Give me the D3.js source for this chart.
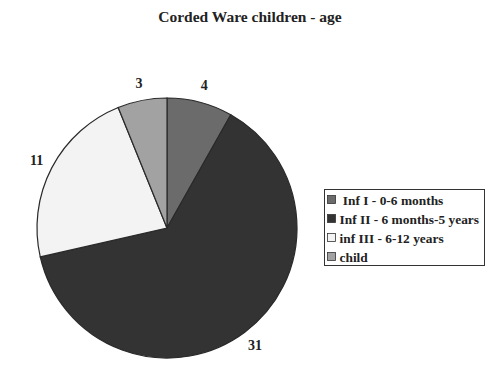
<!DOCTYPE html>
<html><head><meta charset="utf-8">
<script src="https://cdn.jsdelivr.net/npm/d3@7/dist/d3.min.js"></script>
<style>body{margin:0;background:#fff;}svg{display:block;}</style>
</head><body>
<svg id="c" width="500" height="367"></svg>
<script>
const categories = ["Inf I - 0-6 months", "Inf II - 6 months-5 years", "inf III - 6-12 years", "child"];
const legendLabels = ["\u00a0Inf I - 0-6 months", "Inf II - 6 months-5 years", "inf III - 6-12 years", "child"];
const values = [4, 31, 11, 3];
const colors = ["#6b6b6b", "#333333", "#f3f3f3", "#a2a2a2"];
const title = "Corded Ware children - age";

const svg = d3.select("#c");
const font = "'Liberation Serif','Times New Roman',serif";
const cx = 167, cy = 228, r = 130;

svg.append("text").attr("x", 250).attr("y", 22).attr("text-anchor", "middle")
  .attr("font-family", font).attr("font-weight", "bold").attr("font-size", 15.5)
  .attr("fill", "#222").text(title);

const color = d3.scaleOrdinal().domain(categories).range(colors);
const pie = d3.pie().sort(null).value(d => d.v);
const data = pie(categories.map((c, i) => ({c, v: values[i]})));
const arc = d3.arc().innerRadius(0).outerRadius(r);
const labelArc = d3.arc().innerRadius(147).outerRadius(147);

const g = svg.append("g").attr("transform", `translate(${cx},${cy})`);
g.selectAll("path").data(data).join("path")
  .attr("d", arc).attr("fill", d => color(d.data.c))
  .attr("stroke", "#2a2a2a").attr("stroke-width", 1.2);

g.selectAll("text.lbl").data(data).join("text").attr("class", "lbl")
  .attr("transform", d => `translate(${labelArc.centroid(d)})`)
  .attr("text-anchor", "middle").attr("dominant-baseline", "central")
  .attr("font-family", font).attr("font-weight", "bold").attr("font-size", 14)
  .attr("fill", "#222").text(d => d.data.v);

// legend
const lg = svg.append("g");
lg.append("rect").attr("x", 324.5).attr("y", 189.5).attr("width", 160).attr("height", 76)
  .attr("fill", "#fff").attr("stroke", "#333").attr("stroke-width", 1);
const ly = d3.scalePoint().domain(categories).range([200, 257]);
categories.forEach((c, i) => {
  const y = ly(c);
  lg.append("rect").attr("x", 327.5).attr("y", y - 4.5).attr("width", 8).attr("height", 8)
    .attr("fill", color(c)).attr("stroke", "#333").attr("stroke-width", 0.8);
  lg.append("text").attr("x", 339.5).attr("y", y).attr("dominant-baseline", "central")
    .attr("font-family", font).attr("font-weight", "bold").attr("font-size", 13.4)
    .attr("fill", "#222").text(legendLabels[i]);
});
</script>
</body></html>
